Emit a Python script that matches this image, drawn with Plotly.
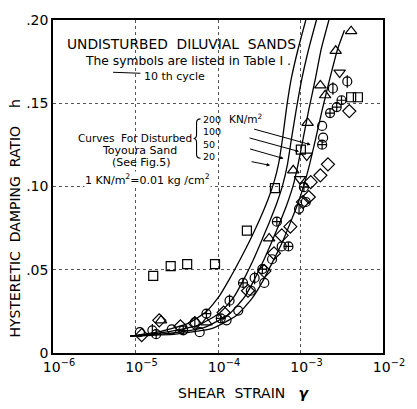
import numpy as np
import plotly.graph_objects as go

# ---------------- data ----------------
strain_ticks = [1e-6, 1e-5, 1e-4, 1e-3, 1e-2]
strain_tick_text = ["10<sup>−6</sup>", "10<sup>−5</sup>", "10<sup>−4</sup>", "10<sup>−3</sup>", "10<sup>−2</sup>"]
h_ticks = [0, 0.05, 0.10, 0.15, 0.20]
h_tick_text = ["0", ".05", ".10", ".15", ".20"]

# Curves for disturbed Toyoura sand (confining pressure, KN/m2)
curve_labels = ["20", "50", "100", "200"]
curve_20_strain = [8.62e-6, 2.04e-5, 4.34e-5, 7.24e-5, 1.027e-4, 1.38e-4, 1.86e-4, 2.50e-4, 3.27e-4,
                   4.06e-4, 4.77e-4, 5.46e-4, 6.08e-4, 6.77e-4, 7.74e-4, 9.35e-4, 1.16e-3]
curve_20_h = [0.0101, 0.0130, 0.0178, 0.0249, 0.0338, 0.0445, 0.0563, 0.0688, 0.0812,
              0.0925, 0.1026, 0.1144, 0.1293, 0.1471, 0.1649, 0.1826, 0.200]
curve_50_strain = [8.62e-6, 2.34e-5, 5.68e-5, 1.027e-4, 1.54e-4, 2.01e-4, 2.57e-4, 3.27e-4, 4.17e-4,
                   5.17e-4, 6.08e-4, 6.95e-4, 7.74e-4, 8.86e-4, 1.041e-3, 1.257e-3, 1.56e-3]
curve_50_h = [0.0101, 0.0125, 0.0166, 0.0237, 0.0332, 0.0433, 0.0540, 0.0658, 0.0783,
              0.0901, 0.1008, 0.1133, 0.1281, 0.1459, 0.1649, 0.1826, 0.200]
curve_100_strain = [8.62e-6, 2.67e-5, 6.86e-5, 1.345e-4, 2.07e-4, 2.71e-4, 3.45e-4, 4.40e-4, 5.61e-4,
                    6.95e-4, 8.17e-4, 9.35e-4, 1.07e-3, 1.257e-3, 1.518e-3, 1.784e-3, 2.21e-3]
curve_100_h = [0.0101, 0.0119, 0.0154, 0.0231, 0.0332, 0.0433, 0.0540, 0.0658, 0.0783,
               0.0901, 0.1008, 0.1133, 0.1281, 0.1459, 0.1649, 0.1826, 0.200]
curve_200_strain = [8.62e-6, 3.06e-5, 8.51e-5, 1.67e-4, 2.57e-4, 3.45e-4, 4.52e-4, 5.92e-4, 7.54e-4,
                    9.35e-4, 1.10e-3, 1.29e-3, 1.518e-3, 1.83e-3, 2.27e-3, 2.82e-3, 3.41e-3]
curve_200_h = [0.0101, 0.0113, 0.0148, 0.0225, 0.0326, 0.0427, 0.0540, 0.0658, 0.0783,
               0.0901, 0.1008, 0.1133, 0.1281, 0.1459, 0.1649, 0.1826, 0.1939]

# Undisturbed diluvial sands (10th cycle), grouped by symbol
square_strain = [1.64e-5, 2.67e-5, 4.23e-5, 9.2e-5, 2.24e-4, 4.9e-4, 1.01e-3, 4.11e-3, 4.96e-3]
square_h = [0.0463, 0.0522, 0.0534, 0.0534, 0.0735, 0.0990, 0.1222, 0.1536, 0.1536]

tri_up_strain = [4.11e-3, 2.67e-3, 1.74e-3, 1.99e-3, 1.22e-3, 8.17e-4, 4.17e-4, 7.24e-5, 2.04e-5]
tri_up_h = [0.1933, 0.1815, 0.1607, 0.1548, 0.1382, 0.1097, 0.0688, 0.0184, 0.0196]

tri_down_strain = [2.98e-3, 1.19e-3, 9.86e-4]
tri_down_h = [0.1684, 0.1186, 0.1044]

diamond_strain = [3.90e-3, 2.15e-3, 1.74e-3, 1.33e-3, 1.26e-3, 1.07e-3, 7.54e-4, 5.92e-4, 4.77e-4,
                  3.64e-4, 2.31e-4, 1.17e-4, 5.24e-5, 1.94e-5, 1.19e-5, 3.50e-5]
diamond_h = [0.1453, 0.1133, 0.1067, 0.1026, 0.0937, 0.0907, 0.0759, 0.0706, 0.0599,
             0.0492, 0.0374, 0.0243, 0.0178, 0.0196, 0.0107, 0.0160]

phi_strain = [3.69e-3, 2.47e-3, 9.6e-4, 2.78e-4, 1.38e-4, 5.24e-5, 1.60e-5]
phi_h = [0.1631, 0.1589, 0.0866, 0.0451, 0.0314, 0.0184, 0.0136]

plus_strain = [3.14e-3, 2.75e-3, 2.28e-3, 1.83e-3, 1.10e-3, 5.17e-4, 7.14e-4, 3.45e-4, 2.01e-4,
               1.08e-4, 7.24e-5, 3.79e-5, 1.78e-5]
plus_h = [0.1518, 0.1477, 0.1441, 0.1251, 0.0996, 0.0789, 0.0640, 0.0504, 0.0421,
          0.0208, 0.0237, 0.0136, 0.0113]

circle_strain = [1.83e-3, 1.88e-3, 1.16e-3, 5.92e-4, 4.52e-4, 3.64e-4, 2.50e-4, 1.76e-4, 1.27e-4,
                 6.0e-5, 2.75e-5, 1.13e-5]
circle_h = [0.1364, 0.1293, 0.0907, 0.0640, 0.0563, 0.0421, 0.0374, 0.0255, 0.0196,
            0.0125, 0.0142, 0.0125]

# leader arrows from the pressure labels (200, 100, 50, 20) to the curves
arrow_strain = [1.327e-3, 9.60e-4, 6.24e-4, 4.28e-4]
arrow_h = [0.1251, 0.1210, 0.1168, 0.1127]

# ---------------- figure ----------------
FONT = "DejaVu Sans"
fig = go.Figure()

for sx, sy in [(curve_20_strain, curve_20_h), (curve_50_strain, curve_50_h),
               (curve_100_strain, curve_100_h), (curve_200_strain, curve_200_h)]:
    fig.add_trace(go.Scatter(x=sx, y=sy, mode="lines",
                             line=dict(color="black", width=1.3, shape="spline", smoothing=0.5),
                             hoverinfo="skip", showlegend=False))

def add_markers(sx, sy, symbol, size):
    fig.add_trace(go.Scatter(x=sx, y=sy, mode="markers",
                             marker=dict(symbol=symbol, size=size, color="black",
                                         line=dict(color="black", width=1.2)),
                             showlegend=False))

add_markers(square_strain, square_h, "square-open", 9)
add_markers(tri_up_strain, tri_up_h, "triangle-up-open", 10)
add_markers(tri_down_strain, tri_down_h, "triangle-down-open", 10)
add_markers(diamond_strain, diamond_h, "diamond-open", 10)
add_markers(circle_strain, circle_h, "circle-open", 9)
add_markers(plus_strain, plus_h, "circle-cross-open", 9)
add_markers(phi_strain, phi_h, "circle-open", 9)
add_markers(phi_strain, phi_h, "line-ns-open", 9)

grid = dict(showgrid=True, gridcolor="#555555", gridwidth=1, griddash="dot",
            showline=True, linecolor="black", linewidth=1.6, mirror=True,
            ticks="", zeroline=False)

fig.update_xaxes(type="log", range=[-6, -2], tickvals=strain_ticks, ticktext=strain_tick_text,
                 ticklabelshift=6,
                 tickfont=dict(family=FONT, size=14, color="black"), **grid)
fig.update_yaxes(range=[0, 0.2], tickvals=h_ticks, ticktext=h_tick_text,
                 tickfont=dict(family=FONT, size=14, color="black"), **grid)

# white masks hiding the grid behind the text block (as in the original)
fig.add_shape(type="rect", xref="paper", yref="paper", x0=0.006, x1=0.624, y0=0.754, y1=0.988,
              fillcolor="white", line=dict(width=0), layer="between")
fig.add_shape(type="rect", xref="paper", yref="paper", x0=0.006, x1=0.624, y0=0.549, y1=0.739,
              fillcolor="white", line=dict(width=0), layer="between")
# short stroke before "10 th cycle"
fig.add_shape(type="line", xref="paper", yref="paper", x0=0.182, x1=0.265, y0=0.843, y1=0.840,
              line=dict(color="black", width=1))
# curly brace grouping the pressures
fig.add_shape(type="path", xref="paper", yref="paper",
              path="M 0.447,0.703 Q 0.435,0.703 0.435,0.691 L 0.435,0.656 Q 0.435,0.644 0.426,0.644 "
                   "Q 0.435,0.644 0.435,0.632 L 0.435,0.596 Q 0.435,0.585 0.447,0.585",
              line=dict(color="black", width=1.1))

def txt(x, y, s, size=11, xanchor="left", bg=None, **kw):
    fig.add_annotation(xref="paper", yref="paper", x=x, y=y, text=s, showarrow=False,
                       xanchor=xanchor, yanchor="middle",
                       font=dict(family=FONT, size=size, color="black"),
                       bgcolor=bg, borderpad=0, **kw)

txt(0.038, 0.929, "UNDISTURBED  DILUVIAL  SANDS", 13.8)
txt(0.094, 0.878, "The symbols are listed in Table I .", 12.3)
txt(0.273, 0.831, "10 th cycle", 11)
txt(0.072, 0.645, "Curves  For Disturbed", 10.5)
txt(0.262, 0.608, "Toyoura Sand", 11, xanchor="center")
txt(0.268, 0.572, "(See Fig.5)", 11, xanchor="center")
txt(0.285, 0.522, "1 KN/m<sup>2</sup>=0.01 kg /cm<sup>2</sup>", 11, xanchor="center", bg="white")
fig.add_annotation(xref="paper", yref="paper", x=0.447, y=0.723, text="200<br>100<br>50<br>20",
                   showarrow=False, xanchor="left", yanchor="top", align="left",
                   font=dict(family=FONT, size=9.5, color="black"))
txt(0.530, 0.705, "KN/m<sup>2</sup>", 10.5)

# leader arrows
tails = [(-58, -16), (-51, -14), (-35, -10), (-20, -4)]
for sx, sy, (ax, ay) in zip(arrow_strain, arrow_h, tails):
    fig.add_annotation(x=np.log10(sx), y=sy, xref="x", yref="y", ax=ax, ay=ay,
                       showarrow=True, arrowhead=2, arrowsize=0.7, arrowwidth=1,
                       arrowcolor="black", text="")

# axis titles
txt(-0.115, 0.404, "HYSTERETIC  DAMPING  RATIO    h", 14, xanchor="center", textangle=-90)
fig.add_annotation(xref="paper", yref="paper", x=0.579, y=-0.119,
                   text="SHEAR  STRAIN   <b><i>γ</i></b>", showarrow=False,
                   xanchor="center", yanchor="middle",
                   font=dict(family=FONT, size=14, color="black"))

fig.update_layout(width=417, height=409, margin=dict(l=53, r=24, t=16, b=56),
                  plot_bgcolor="white", paper_bgcolor="white", showlegend=False)

fig.write_html("out.html")
